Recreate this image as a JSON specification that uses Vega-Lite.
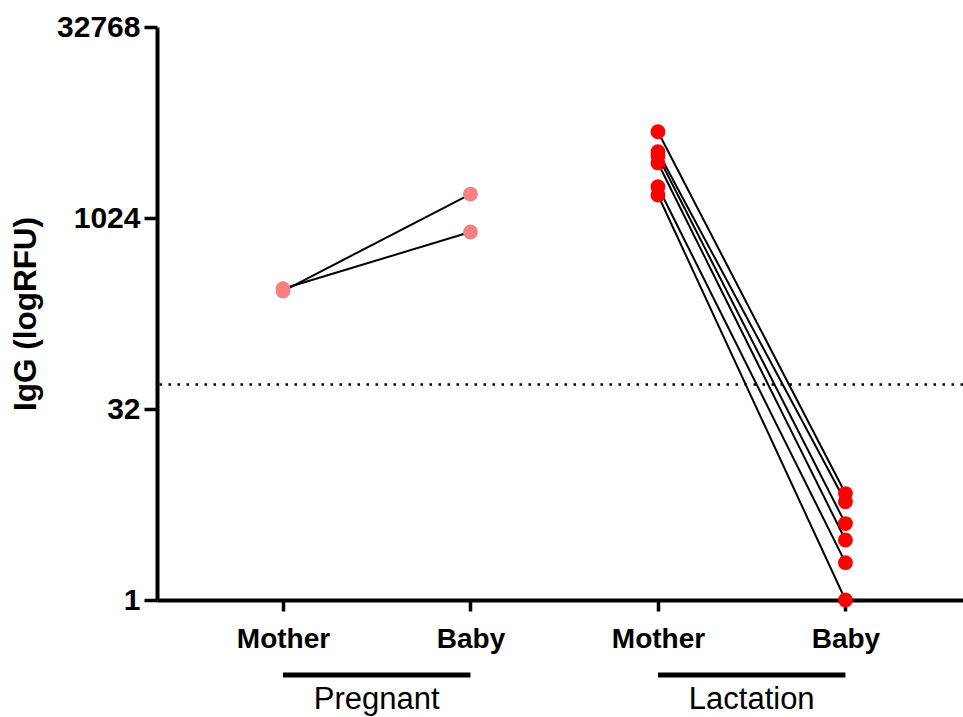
{
  "$schema": "https://vega.github.io/schema/vega-lite/v6.json",
  "width": 806,
  "height": 573,
  "autosize": {"type": "none"},
  "padding": {"left": 157, "top": 27, "right": 0, "bottom": 117},
  "config": {"view": {"stroke": null}, "font": "Liberation Sans"},
  "datasets": {
    "pts": [
      {"group": "Pregnant", "pair": "P1", "role": "Mother", "pos": 1, "igg": 272},
      {"group": "Pregnant", "pair": "P1", "role": "Baby", "pos": 2, "igg": 1580},
      {"group": "Pregnant", "pair": "P2", "role": "Mother", "pos": 1, "igg": 284},
      {"group": "Pregnant", "pair": "P2", "role": "Baby", "pos": 2, "igg": 794},
      {"group": "Lactation", "pair": "L1", "role": "Mother", "pos": 3, "igg": 4900},
      {"group": "Lactation", "pair": "L1", "role": "Baby", "pos": 4, "igg": 6.9},
      {"group": "Lactation", "pair": "L2", "role": "Mother", "pos": 3, "igg": 3410},
      {"group": "Lactation", "pair": "L2", "role": "Baby", "pos": 4, "igg": 5.95},
      {"group": "Lactation", "pair": "L3", "role": "Mother", "pos": 3, "igg": 3150},
      {"group": "Lactation", "pair": "L3", "role": "Baby", "pos": 4, "igg": 4.0},
      {"group": "Lactation", "pair": "L4", "role": "Mother", "pos": 3, "igg": 2780},
      {"group": "Lactation", "pair": "L4", "role": "Baby", "pos": 4, "igg": 2.97},
      {"group": "Lactation", "pair": "L5", "role": "Mother", "pos": 3, "igg": 1805},
      {"group": "Lactation", "pair": "L5", "role": "Baby", "pos": 4, "igg": 1.97},
      {"group": "Lactation", "pair": "L6", "role": "Mother", "pos": 3, "igg": 1555},
      {"group": "Lactation", "pair": "L6", "role": "Baby", "pos": 4, "igg": 1.0}
    ],
    "cutoff": [{"igg": 50}],
    "groups": [
      {"group": "Pregnant", "start": 1, "end": 2, "mid": 1.5},
      {"group": "Lactation", "start": 3, "end": 4, "mid": 3.5}
    ]
  },
  "layer": [
    {
      "data": {"name": "cutoff"},
      "mark": {"type": "rule", "color": "black", "strokeWidth": 2.5, "strokeDash": [2.5, 6.5]},
      "encoding": {
        "y": {"field": "igg", "type": "quantitative"}
      }
    },
    {
      "data": {"name": "pts"},
      "mark": {"type": "line", "color": "black", "strokeWidth": 2},
      "encoding": {
        "x": {
          "field": "pos", "type": "quantitative",
          "scale": {"domain": [0.328, 4.627], "nice": false, "zero": false},
          "axis": {
            "title": null, "values": [1, 2, 3, 4], "grid": false,
            "labelExpr": "datum.value % 2 == 1 ? 'Mother' : 'Baby'",
            "domainColor": "black", "domainWidth": 4, "tickColor": "black", "tickWidth": 3.5, "tickSize": 11,
            "labelFont": "Liberation Sans", "labelFontWeight": "bold", "labelFontSize": 28, "labelColor": "black",
            "labelPadding": 14, "labelFlush": false, "labelOverlap": false
          }
        },
        "y": {
          "field": "igg", "type": "quantitative",
          "scale": {"type": "log", "base": 2, "domain": [1, 32768], "nice": false},
          "axis": {
            "title": "IgG (logRFU)", "values": [1, 32, 1024, 32768], "grid": false, "format": "d",
            "domainColor": "black", "domainWidth": 4, "tickColor": "black", "tickWidth": 3.5, "tickSize": 13,
            "labelFont": "Liberation Sans", "labelFontWeight": "bold", "labelFontSize": 30, "labelColor": "black",
            "labelPadding": 4, "labelFlush": false,
            "titleFont": "Liberation Sans", "titleFontWeight": "bold", "titleFontSize": 31.5, "titleColor": "black",
            "titlePadding": 14
          }
        },
        "detail": {"field": "pair"}
      }
    },
    {
      "data": {"name": "pts"},
      "mark": {"type": "circle", "size": 220, "opacity": 1},
      "encoding": {
        "x": {"field": "pos", "type": "quantitative"},
        "y": {"field": "igg", "type": "quantitative"},
        "color": {
          "field": "group", "type": "nominal",
          "scale": {"domain": ["Pregnant", "Lactation"], "range": ["#F98080", "#FF0000"]},
          "legend": null
        }
      }
    },
    {
      "data": {"name": "groups"},
      "mark": {"type": "rule", "color": "black", "strokeWidth": 5},
      "encoding": {
        "x": {"field": "start", "type": "quantitative"},
        "x2": {"field": "end"},
        "y": {"datum": 0.2563}
      }
    },
    {
      "data": {"name": "groups"},
      "mark": {"type": "text", "fontSize": 31, "font": "Liberation Sans", "color": "black", "baseline": "middle"},
      "encoding": {
        "x": {"field": "mid", "type": "quantitative"},
        "y": {"datum": 0.163},
        "text": {"field": "group"}
      }
    }
  ]
}
